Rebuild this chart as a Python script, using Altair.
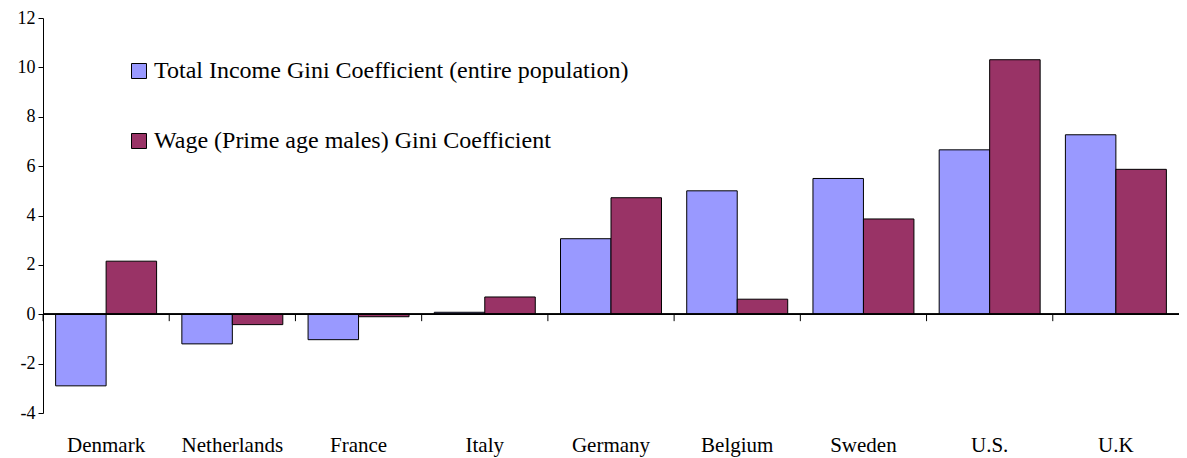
import altair as alt
import pandas as pd

countries = ["Denmark", "Netherlands", "France", "Italy", "Germany", "Belgium", "Sweden", "U.S.", "U.K"]
series_names = ["Total Income Gini Coefficient (entire population)",
                "\u00a0Wage (Prime age males) Gini Coefficient"]
total_income = [-2.9, -1.2, -1.03, 0.08, 3.06, 5.0, 5.5, 6.66, 7.27]
wage = [2.15, -0.42, -0.1, 0.7, 4.72, 0.61, 3.86, 10.31, 5.87]
y_ticks = [-4, -2, 0, 2, 4, 6, 8, 10, 12]
colors = ["#9999FF", "#993366"]

rows = []
for c, a, b in zip(countries, total_income, wage):
    rows.append({"country": c, "series": series_names[0], "value": a})
    rows.append({"country": c, "series": series_names[1], "value": b})
df = pd.DataFrame(rows)
df_c = pd.DataFrame({"country": countries})

FONT = "Liberation Serif"

x_axis = alt.Axis(domain=False, ticks=False, labelAngle=0, grid=False,
                  labelFont=FONT, labelFontSize=21, labelColor="black",
                  labelPadding=21)
x_scale = alt.Scale(paddingInner=0, paddingOuter=0)
y_scale = alt.Scale(domain=[-4, 12], nice=False, zero=False)

bars = alt.Chart(df).mark_bar(stroke="black", strokeWidth=1).encode(
    x=alt.X("country:N", sort=countries, title=None, scale=x_scale, axis=x_axis),
    xOffset=alt.XOffset("series:N", sort=series_names,
                        scale=alt.Scale(paddingInner=0, paddingOuter=0.25)),
    y=alt.Y("value:Q", title=None, scale=y_scale,
            axis=alt.Axis(values=y_ticks, grid=False, domainColor="black",
                          tickColor="black", tickSize=5, labelFont=FONT,
                          labelFontSize=18, labelColor="black", labelPadding=3,
                          labelExpr="toString(datum.value)")),
    fill=alt.Fill("series:N", sort=series_names,
                  scale=alt.Scale(domain=series_names, range=colors),
                  legend=alt.Legend(title=None, orient="none", legendX=84, legendY=41,
                                    symbolType="square", symbolSize=225,
                                    symbolStrokeColor="black", symbolStrokeWidth=1,
                                    labelFont=FONT, labelFontSize=24, labelColor="black",
                                    labelOffset=3, rowPadding=46, labelLimit=700)),
)

zero_line = alt.Chart(df_c).mark_rule(color="black", strokeWidth=1).encode(
    y=alt.datum(0)
)

ticks = alt.Chart(df_c).mark_rule(color="black", strokeWidth=1).encode(
    x=alt.X("country:N", sort=countries, bandPosition=0),
    y=alt.datum(0),
    y2=alt.datum(-0.28),
)

chart = alt.layer(bars, zero_line, ticks).properties(
    width=1136, height=395,
    background="white",
    autosize=alt.AutoSizeParams(type="none"),
    padding={"left": 35, "top": 10, "right": 0, "bottom": 44},
).configure_view(strokeWidth=0)

chart.save("out.html", embed_options={"renderer": "svg", "actions": False})
